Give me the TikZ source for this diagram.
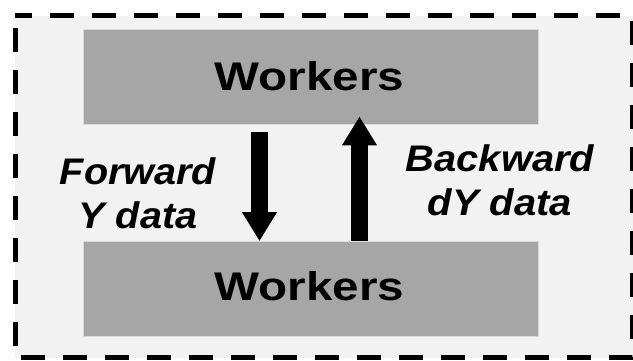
\documentclass[tikz,border=0pt]{standalone}
\usepackage{fontspec}
\setmainfont{Liberation Sans}
\usetikzlibrary{arrows.meta}
\definecolor{panelbg}{HTML}{F2F2F2}
\definecolor{boxgray}{HTML}{A6A6A6}
\definecolor{boxedge}{HTML}{DADADA}
\newcommand{\widetext}[2]{\scalebox{#1}[1]{#2}}
\tikzset{
  frame/.style={draw=black, fill=panelbg, line width=5pt, dash pattern=on 24pt off 18pt, dash phase=7pt},
  workerbox/.style={rectangle, fill=boxgray, draw=boxedge, line width=0.8pt,
    minimum width=455pt, minimum height=95pt, inner sep=0pt},
  workerlabel/.style={anchor=base, inner sep=0pt, font=\fontsize{40}{48}\selectfont\bfseries},
  flowlabel/.style={anchor=base, inner sep=0pt, font=\fontsize{37}{44}\selectfont\bfseries\itshape},
  fatarrow/.style={draw=black, line width=17pt, -{Triangle[length=29pt, width=33pt]}}
}
\begin{document}
\begin{tikzpicture}[x=1pt, y=-1pt]
  \useasboundingbox (0,0) rectangle (633,360);
  % dashed panel
  \draw[frame] (15,15.5) -- (632.5,15.5) -- (632.5,357.5) -- (15,357.5) -- cycle;
  % worker boxes
  \node[workerbox] (top) at (310.5,76.5) {};
  \node[workerbox] (bot) at (310.5,289) {};
  \node[workerlabel] (toplbl) at (309.5,90.5) {\widetext{1.19}{Workers}};
  \node[workerlabel] (botlbl) at (309.5,300.5) {\widetext{1.19}{Workers}};
  % data flow arrows
  \draw[fatarrow] ([xshift=-51pt, yshift=-8pt]top.south) -- ([xshift=-51pt]bot.north);
  \draw[fatarrow] ([xshift=49pt]bot.north) -- ([xshift=49pt, yshift=8pt]top.south);
  % labels
  \node[flowlabel] (fwd) at (138,184) {\widetext{1.07}{\begin{tabular}[t]{@{}c@{}}Forward\\Y data\end{tabular}}};
  \node[flowlabel] (bwd) at (500,171) {\widetext{1.08}{\begin{tabular}[t]{@{}c@{}}Backward\\dY data\end{tabular}}};
\end{tikzpicture}
\end{document}
